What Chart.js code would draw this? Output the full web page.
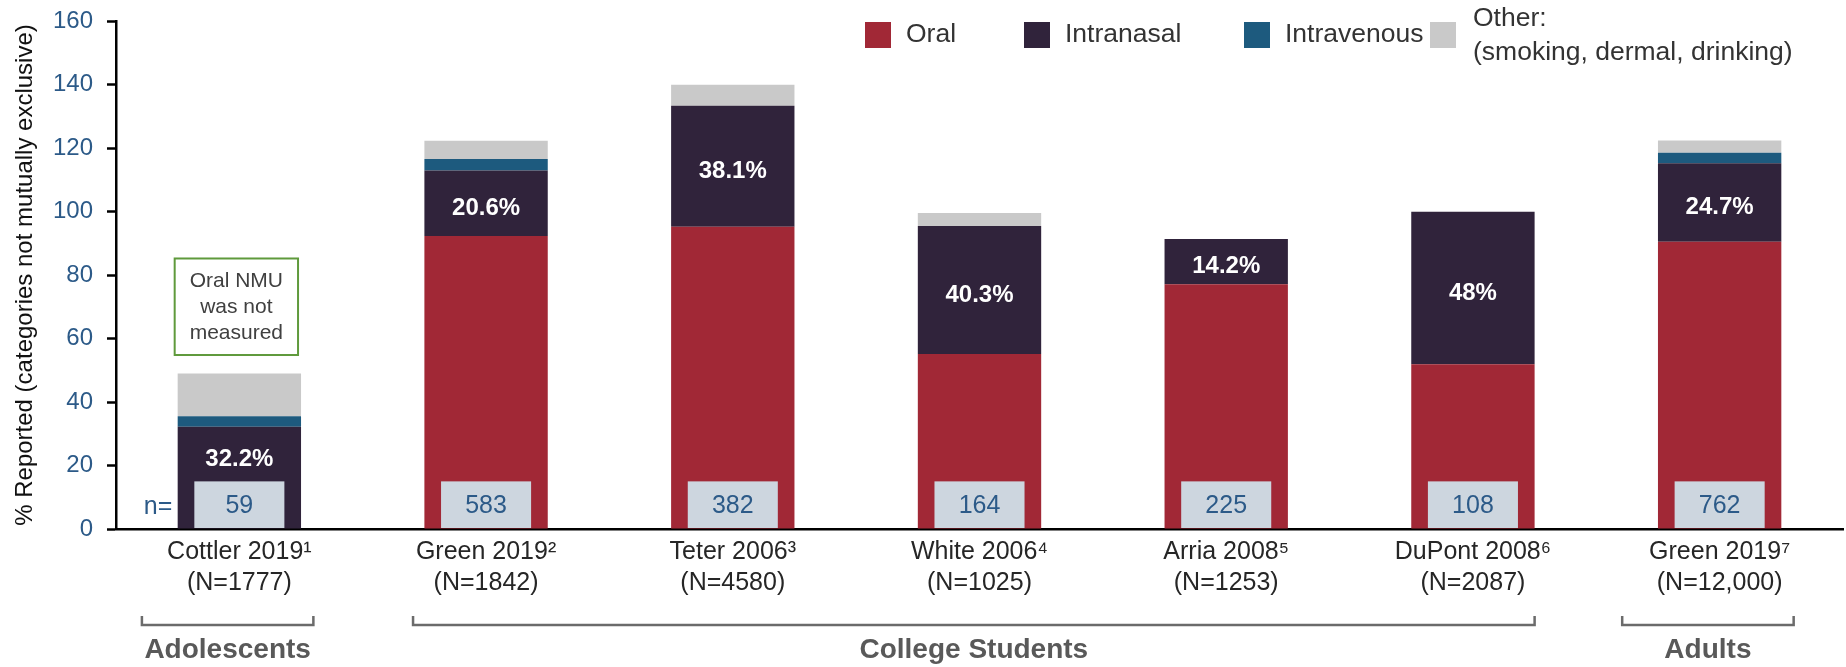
<!DOCTYPE html>
<html>
<head>
<meta charset="utf-8">
<title>Route of administration</title>
<script src="https://cdn.jsdelivr.net/npm/chart.js@4.4.1/dist/chart.umd.min.js"></script>
<style>
  html, body { margin: 0; padding: 0; background: #fff; }
  canvas { display: block; }
</style>
</head>
<body>
<canvas id="routeChart" width="1846" height="667"></canvas>
<script>
// studies (x categories), two lines each
const studies = [
  ['Cottler 2019\u00b9', '(N=1777)'],
  ['Green 2019\u00b2', '(N=1842)'],
  ['Teter 2006\u00b3', '(N=4580)'],
  ['White 2006\u2074', '(N=1025)'],
  ['Arria 2008\u2075', '(N=1253)'],
  ['DuPont 2008\u2076', '(N=2087)'],
  ['Green 2019\u2077', '(N=12,000)']
];

// % reported per route
const oral        = [0, 92.3, 95.2, 55.1, 77.1, 51.9, 90.5];
const intranasal  = [32.2, 20.6, 38.1, 40.3, 14.2, 48, 24.7];
const intravenous = [3.3, 3.6, 0, 0, 0, 0, 3.3];
const other       = [13.5, 5.8, 6.6, 4.1, 0, 0, 3.9];

// respondents per study
const nValues = [59, 583, 382, 164, 225, 108, 762];

// population groups: label, first and last study index
const groupNames = ['Adolescents', 'College Students', 'Adults'];
const groupFrom  = [0, 1, 6];
const groupTo    = [0, 5, 6];

const yMin = 0, yMax = 160, yStep = 20;

const colors = {
  oral: '#a12836',
  intranasal: '#30233b',
  intravenous: '#1d5a7e',
  other: '#c9c9c9',
  nBox: '#cdd6df',
  blue: '#2c5a88'
};

function installed(family) {
  const c = document.createElement('canvas').getContext('2d');
  c.font = '40px monospace';
  const a = c.measureText('Intranasal Reported').width;
  c.font = '40px "' + family + '", monospace';
  return c.measureText('Intranasal Reported').width !== a;
}
const narrow = installed('Liberation Sans Narrow');
const legendFont = narrow ? '32px "Liberation Sans Narrow"' : '26.5px "Liberation Sans"';
const titleFont = narrow
  ? { family: 'Liberation Sans Narrow', size: 29 }
  : { family: 'Liberation Sans', size: 24 };

const pct = v => (Number.isInteger(v) ? v : v.toFixed(1)) + '%';

// labels, n boxes, note box, brackets and legend
const overlay = {
  id: 'overlay',
  afterDatasetsDraw(chart) {
    const { ctx, scales: { x, y } } = chart;
    const catW = x.getPixelForValue(1) - x.getPixelForValue(0);
    const nTop = 15;
    ctx.save();

    // n boxes
    ctx.textAlign = 'center';
    ctx.textBaseline = 'middle';
    nValues.forEach((n, i) => {
      const cx = x.getPixelForValue(i);
      const w = catW * 0.365;
      const top = y.getPixelForValue(nTop);
      const bottom = y.getPixelForValue(0) - 1;
      ctx.fillStyle = colors.nBox;
      ctx.fillRect(cx - w / 2, top, w, bottom - top);
      ctx.fillStyle = colors.blue;
      ctx.font = '25px "Liberation Sans"';
      ctx.fillText(String(n), cx, (top + bottom) / 2 + 1);
      if (i === 0) {
        ctx.textAlign = 'right';
        ctx.fillText('n=', cx - w / 2 - 22, (top + bottom) / 2 + 2);
        ctx.textAlign = 'center';
      }
    });

    // intranasal share, white bold
    ctx.font = 'bold 24px "Liberation Sans"';
    ctx.fillStyle = '#fff';
    intranasal.forEach((v, i) => {
      const lo = Math.max(oral[i], nTop);
      const cy = (y.getPixelForValue(lo) + y.getPixelForValue(oral[i] + v)) / 2 + 5;
      ctx.fillText(pct(v), x.getPixelForValue(i), cy);
    });

    // note over the first bar
    {
      const cx = x.getPixelForValue(0) - 3;
      const w = catW * 0.5;
      const top = y.getPixelForValue(85.2);
      const bottom = y.getPixelForValue(54.8);
      ctx.fillStyle = '#fff';
      ctx.fillRect(cx - w / 2, top, w, bottom - top);
      ctx.strokeStyle = '#5f9a3c';
      ctx.lineWidth = 2;
      ctx.strokeRect(cx - w / 2, top, w, bottom - top);
      ctx.fillStyle = '#404040';
      ctx.font = '21px "Liberation Sans"';
      const mid = (top + bottom) / 2;
      ['Oral NMU', 'was not', 'measured'].forEach((t, k) => {
        ctx.fillText(t, cx, mid + (k - 1) * 26);
      });
    }

    // group brackets below the axis labels
    const by = 625, tick = 9;
    ctx.strokeStyle = '#6b6b6b';
    ctx.lineWidth = 2.5;
    ctx.fillStyle = '#595959';
    ctx.font = 'bold 28px "Liberation Sans"';
    groupNames.forEach((name, g) => {
      const single = groupFrom[g] === groupTo[g];
      const x0 = x.getPixelForValue(groupFrom[g]) - catW * (single ? 0.395 : 0.296);
      const x1 = x.getPixelForValue(groupTo[g]) + catW * (single ? 0.3 : 0.25);
      ctx.beginPath();
      ctx.moveTo(x0, by - tick);
      ctx.lineTo(x0, by);
      ctx.lineTo(x1, by);
      ctx.lineTo(x1, by - tick);
      ctx.stroke();
      ctx.fillText(name, (x0 + x1) / 2, 650);
    });

    // legend
    const legendX = [865, 1024, 1244, 1430];
    ctx.textAlign = 'left';
    ctx.font = legendFont;
    chart.data.datasets.forEach((ds, k) => {
      const lx = legendX[k];
      ctx.fillStyle = ds.backgroundColor;
      ctx.fillRect(lx, 22, 26, 26);
      ctx.fillStyle = '#333';
      const lines = Array.isArray(ds.legendText) ? ds.legendText : [ds.legendText];
      if (lines.length === 1) {
        ctx.fillText(lines[0], lx + 41, 35);
      } else {
        ctx.fillText(lines[0], lx + 43, 19);
        ctx.fillText(lines[1], lx + 43, 53);
      }
    });

    ctx.restore();
  }
};

new Chart(document.getElementById('routeChart'), {
  type: 'bar',
  data: {
    labels: studies,
    datasets: [
      { label: 'Oral', legendText: 'Oral', data: oral, backgroundColor: colors.oral },
      { label: 'Intranasal', legendText: 'Intranasal', data: intranasal, backgroundColor: colors.intranasal },
      { label: 'Intravenous', legendText: 'Intravenous', data: intravenous, backgroundColor: colors.intravenous },
      { label: 'Other', legendText: ['Other:', '(smoking, dermal, drinking)'], data: other, backgroundColor: colors.other }
    ]
  },
  options: {
    responsive: false,
    animation: false,
    events: [],
    datasets: {
      bar: { barPercentage: 0.5, categoryPercentage: 1, borderWidth: 0 }
    },
    layout: { padding: { top: 21, right: 3, left: 0, bottom: 0 } },
    plugins: {
      legend: { display: false },
      tooltip: { enabled: false }
    },
    scales: {
      x: {
        stacked: true,
        grid: { display: false, drawTicks: false, tickLength: 0 },
        border: { display: true, color: '#000', width: 2.5 },
        ticks: {
          color: '#262626',
          font: { family: 'Liberation Sans', size: 25, lineHeight: 1.26 },
          padding: 7,
          maxRotation: 0,
          autoSkip: false
        },
        afterFit(scale) { scale.height = 138; }
      },
      y: {
        stacked: true,
        min: yMin,
        max: yMax,
        grid: {
          display: true,
          drawOnChartArea: false,
          drawTicks: true,
          tickLength: 9,
          tickColor: '#000',
          tickWidth: 2.5
        },
        border: { display: true, color: '#000', width: 2.5 },
        ticks: {
          stepSize: yStep,
          color: colors.blue,
          font: { family: 'Liberation Sans', size: 24 },
          padding: 14
        },
        title: {
          display: true,
          text: '% Reported (categories not mutually exclusive)',
          color: '#111',
          font: titleFont,
          padding: { top: 11, bottom: 0 }
        },
        afterFit(scale) {
          scale.width = 116;
          scale.paddingTop = 0;
          scale.paddingBottom = 0;
        }
      }
    }
  },
  plugins: [overlay]
});
</script>
</body>
</html>
